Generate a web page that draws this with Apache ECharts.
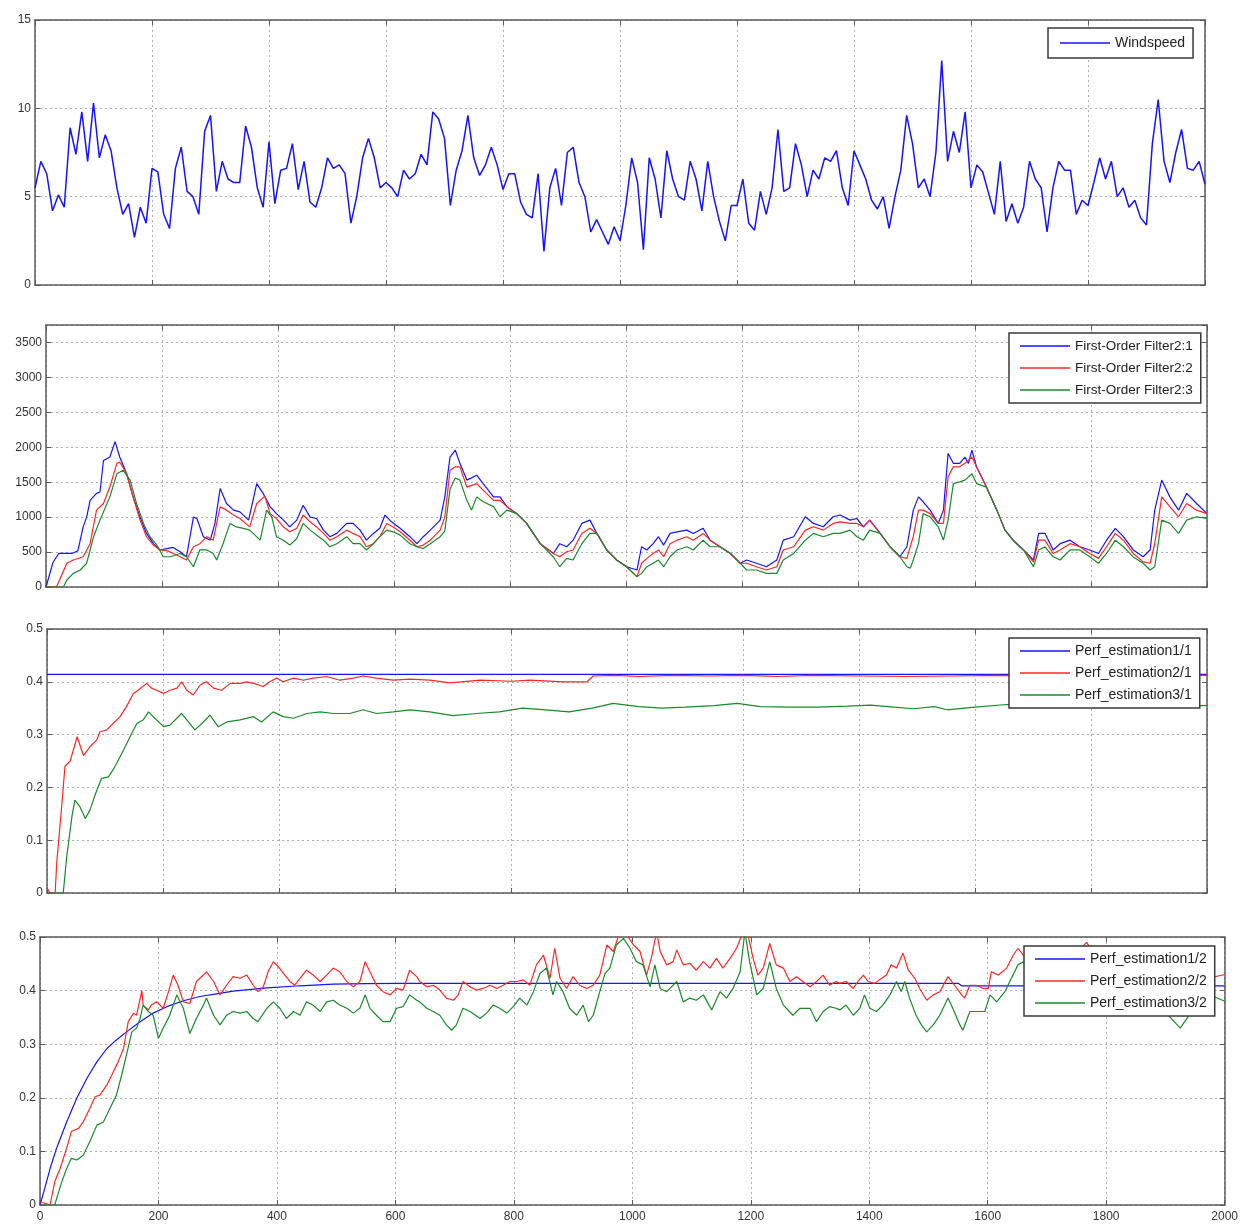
<!DOCTYPE html>
<html>
<head>
<meta charset="utf-8">
<title>Windspeed, filters and performance estimation</title>
<script src="https://cdn.jsdelivr.net/npm/echarts/dist/echarts.min.js"></script>
<style>
  html, body { margin: 0; padding: 0; background: #fff; }
  #chart { width: 1241px; height: 1225px; }
</style>
</head>
<body>
<div id="chart"></div>
<script>
// ---- Data ----------------------------------------------------------------

// Panel 1: wind speed sampled every 10 time units, t = 0 .. 2000
const windStep = 10;
const windSpeed = [
  5.5, 7.0, 6.3, 4.2, 5.1, 4.4, 8.9, 7.4, 9.8, 7.0,
  10.3, 7.2, 8.5, 7.6, 5.5, 4.0, 4.6, 2.7, 4.4, 3.5,
  6.6, 6.4, 4.0, 3.2, 6.6, 7.8, 5.3, 5.0, 4.0, 8.7,
  9.6, 5.3, 7.0, 6.0, 5.8, 5.8, 9.0, 7.8, 5.5, 4.4,
  8.1, 4.6, 6.5, 6.6, 8.0, 5.4, 7.0, 4.7, 4.4, 5.5,
  7.2, 6.6, 6.8, 6.3, 3.5, 5.0, 7.2, 8.3, 7.2, 5.5,
  5.8, 5.5, 5.0, 6.5, 6.0, 6.3, 7.4, 6.8, 9.8, 9.4,
  8.3, 4.5, 6.5, 7.6, 9.6, 7.2, 6.2, 6.8, 7.8, 6.8,
  5.4, 6.3, 6.3, 4.7, 4.0, 3.8, 6.3, 1.9, 5.5, 6.6,
  4.5, 7.5, 7.8, 5.8, 5.0, 3.0, 3.7, 3.0, 2.3, 3.3,
  2.5, 4.5, 7.2, 5.8, 2.0, 7.2, 6.0, 3.8, 7.6, 6.0,
  5.0, 4.8, 7.0, 6.0, 4.2, 7.0, 5.0, 3.6, 2.5, 4.5,
  4.5, 6.0, 3.5, 3.1, 5.3, 4.0, 5.5, 8.8, 5.3, 5.5,
  8.0, 6.8, 5.0, 6.5, 6.0, 7.2, 7.0, 7.6, 5.5, 4.5,
  7.6, 6.8, 6.0, 4.8, 4.3, 5.0, 3.2, 5.0, 6.5, 9.6,
  8.0, 5.5, 6.0, 5.0, 7.5, 12.7, 7.0, 8.7, 7.5, 9.8,
  5.5, 6.8, 6.4, 5.2, 4.0, 7.0, 3.6, 4.6, 3.5, 4.4,
  7.0, 6.0, 5.5, 3.0, 5.5, 7.0, 6.5, 6.5, 4.0, 4.8,
  4.5, 5.8, 7.2, 6.0, 7.0, 5.0, 5.5, 4.4, 4.8, 3.8,
  3.4, 8.0, 10.5, 7.0, 5.8, 7.5, 8.8, 6.6, 6.5, 7.0,
  5.7
];

// Panel 2: first-order filter outputs, [time, value]
const filter21 = [
  [0,0],[12,350],[22,480],[45,480],[55,520],[64,860],[70,1000],[76,1240],[87,1340],[93,1360],
  [99,1810],[110,1860],[119,2080],[127,1860],[139,1620],[150,1290],[162,1000],[173,770],[185,620],[196,530],
  [208,550],[219,567],[231,505],[242,433],[254,1000],[260,980],[271,720],[283,670],[291,910],[300,1410],
  [311,1195],[323,1100],[334,1076],[349,957],[363,1480],[374,1340],[386,1150],[397,1050],[409,957],[420,860],
  [432,957],[443,1170],[455,1000],[466,980],[478,814],[489,720],[501,767],[518,910],[529,910],[541,814],
  [552,670],[564,767],[575,840],[584,1030],[595,933],[610,840],[627,720],[639,620],[650,720],[662,814],
  [679,957],[687,1290],[696,1860],[705,1960],[713,1770],[725,1530],[742,1600],[753,1480],[771,1290],[782,1290],
  [794,1150],[811,1050],[828,910],[851,624],[874,480],[885,620],[897,576],[908,670],[923,910],[937,957],
  [949,767],[966,530],[983,386],[1000,290],[1018,243],[1026,576],[1035,530],[1046,620],[1055,720],[1064,600],
  [1075,767],[1087,790],[1104,814],[1115,767],[1132,840],[1144,670],[1161,576],[1179,480],[1196,340],[1207,386],
  [1224,340],[1241,290],[1259,386],[1270,670],[1288,720],[1308,1005],[1322,910],[1339,862],[1356,1005],[1368,1030],
  [1385,957],[1397,980],[1408,862],[1419,957],[1437,767],[1454,576],[1471,433],[1483,576],[1494,1100],[1503,1290],
  [1511,1220],[1523,1100],[1537,910],[1546,1100],[1554,1910],[1563,1770],[1574,1770],[1583,1860],[1589,1770],[1595,1960],
  [1603,1720],[1620,1430],[1638,1100],[1652,814],[1666,670],[1684,530],[1701,386],[1710,767],[1721,767],[1735,530],
  [1747,620],[1764,670],[1781,576],[1798,530],[1813,480],[1827,670],[1842,840],[1856,720],[1873,530],[1890,433],
  [1902,530],[1910,1100],[1922,1530],[1936,1290],[1951,1100],[1965,1340],[1982,1195],[2000,1050]
];
const filter22 = [
  [0,0],[18,0],[36,340],[47,386],[64,433],[76,620],[87,1100],[99,1195],[110,1430],[122,1770],
  [127,1790],[139,1620],[150,1290],[162,957],[173,720],[185,600],[196,530],[208,520],[225,457],[242,386],
  [254,576],[265,620],[277,720],[288,670],[300,1150],[311,1100],[323,1030],[334,980],[351,860],[363,1195],
  [377,1300],[386,1050],[397,980],[409,860],[420,790],[432,840],[443,1030],[455,933],[466,860],[478,767],
  [489,670],[501,720],[518,814],[529,767],[541,720],[552,576],[564,620],[575,720],[587,910],[598,860],
  [610,790],[627,670],[639,576],[650,600],[662,670],[679,814],[687,1000],[696,1670],[705,1720],[713,1720],
  [725,1430],[742,1480],[753,1386],[771,1240],[782,1240],[794,1150],[811,1050],[828,910],[851,624],[874,480],
  [885,433],[897,505],[908,530],[923,767],[937,840],[949,767],[966,530],[983,386],[1000,290],[1018,148],
  [1026,340],[1035,410],[1046,480],[1055,530],[1064,433],[1075,620],[1087,670],[1104,720],[1115,670],[1132,767],
  [1144,670],[1161,576],[1179,480],[1196,340],[1207,340],[1224,290],[1241,243],[1259,290],[1270,530],[1288,576],
  [1308,814],[1322,862],[1339,814],[1356,910],[1368,933],[1385,910],[1397,910],[1408,862],[1419,957],[1437,767],
  [1454,576],[1471,433],[1483,410],[1494,720],[1503,1100],[1511,1100],[1523,1050],[1537,910],[1546,910],[1554,1576],
  [1563,1720],[1574,1720],[1583,1770],[1595,1860],[1603,1720],[1620,1430],[1638,1100],[1652,814],[1666,670],[1684,530],
  [1701,360],[1710,670],[1721,670],[1735,480],[1747,530],[1764,620],[1781,576],[1798,480],[1813,410],[1827,576],
  [1842,767],[1856,670],[1873,480],[1890,360],[1902,340],[1910,620],[1922,1290],[1936,1150],[1951,1005],[1965,1195],
  [1982,1100],[2000,1050]
];
const filter23 = [
  [0,0],[30,0],[36,100],[47,195],[59,243],[70,340],[82,720],[93,957],[110,1290],[122,1620],
  [133,1670],[145,1530],[156,1195],[168,910],[179,720],[191,600],[202,433],[214,433],[231,480],[242,433],
  [254,290],[265,530],[277,530],[288,480],[294,386],[305,620],[317,910],[328,860],[340,840],[351,814],
  [369,670],[380,1100],[389,1000],[397,720],[409,670],[420,600],[432,695],[443,910],[455,814],[466,743],
  [478,670],[489,576],[501,620],[518,720],[529,620],[541,620],[552,530],[564,620],[575,720],[587,814],
  [598,790],[610,743],[627,620],[639,576],[650,550],[662,620],[679,720],[687,800],[696,1400],[705,1560],
  [713,1530],[725,1240],[733,1100],[742,1290],[753,1220],[771,1150],[782,1005],[794,1100],[811,1050],[828,910],
  [851,624],[874,430],[885,290],[897,410],[908,386],[923,620],[937,767],[949,767],[966,530],[983,386],
  [1000,290],[1018,148],[1026,195],[1035,290],[1046,340],[1055,386],[1064,290],[1075,433],[1087,530],[1104,576],
  [1115,530],[1132,670],[1144,576],[1161,576],[1179,480],[1196,340],[1207,243],[1224,243],[1241,195],[1259,195],
  [1270,386],[1288,480],[1308,670],[1322,767],[1339,720],[1356,767],[1368,767],[1385,814],[1397,720],[1408,670],
  [1419,814],[1437,767],[1454,576],[1471,433],[1483,290],[1489,270],[1494,386],[1503,620],[1511,1050],[1523,1005],
  [1537,862],[1546,670],[1554,957],[1563,1480],[1574,1505],[1583,1530],[1595,1620],[1603,1480],[1620,1430],[1638,1100],
  [1652,814],[1666,670],[1684,530],[1701,290],[1710,530],[1721,576],[1735,433],[1747,386],[1764,530],[1781,530],
  [1798,433],[1813,340],[1827,480],[1842,670],[1856,576],[1873,430],[1890,340],[1902,243],[1910,290],[1922,957],
  [1936,910],[1951,767],[1965,957],[1982,1005],[2000,980]
];

// Panel 3: performance estimates, first output
const perf11 = [[0,0.414],[2000,0.414]];
const perf21 = [
  [0,0.01],[5,0],[14,0],[17,0.06],[25,0.16],[31,0.24],[40,0.25],[52,0.296],[63,0.26],[74,0.277],
  [86,0.29],[91,0.305],[103,0.309],[114,0.321],[126,0.334],[137,0.353],[149,0.378],[157,0.384],[172,0.397],[180,0.388],
  [189,0.384],[201,0.378],[212,0.384],[224,0.388],[232,0.4],[241,0.384],[252,0.375],[264,0.394],[275,0.4],[287,0.388],
  [301,0.384],[316,0.397],[333,0.397],[344,0.4],[356,0.397],[373,0.391],[384,0.4],[396,0.407],[407,0.4],[425,0.407],
  [442,0.403],[459,0.407],[482,0.41],[505,0.403],[528,0.407],[545,0.411],[568,0.407],[597,0.403],[626,0.405],[660,0.403],
  [695,0.398],[747,0.403],[800,0.401],[833,0.403],[890,0.4],[931,0.4],[942,0.411],[980,0.412],[1020,0.41],[1080,0.412],
  [1140,0.411],[1200,0.412],[1260,0.41],[1320,0.412],[1400,0.411],[1480,0.41],[1560,0.411],[1640,0.412],[1700,0.411],[1800,0.412],
  [1900,0.412],[2000,0.412]
];
const perf31 = [
  [0,0],[28,0],[34,0.069],[43,0.145],[48,0.176],[57,0.163],[66,0.141],[74,0.157],[86,0.195],[94,0.217],
  [106,0.22],[117,0.239],[132,0.271],[146,0.302],[155,0.321],[166,0.328],[175,0.343],[186,0.331],[201,0.315],[212,0.318],
  [232,0.34],[241,0.328],[255,0.309],[267,0.321],[281,0.337],[295,0.315],[310,0.324],[333,0.328],[356,0.334],[370,0.324],
  [390,0.343],[407,0.334],[425,0.331],[448,0.34],[471,0.343],[494,0.34],[522,0.34],[545,0.347],[568,0.34],[597,0.343],
  [626,0.347],[660,0.343],[700,0.336],[740,0.34],[780,0.343],[820,0.35],[860,0.347],[900,0.343],[940,0.35],[976,0.359],
  [1020,0.353],[1060,0.35],[1100,0.352],[1150,0.355],[1190,0.359],[1230,0.353],[1280,0.352],[1330,0.352],[1380,0.354],[1420,0.356],
  [1460,0.352],[1494,0.349],[1530,0.353],[1552,0.347],[1600,0.352],[1655,0.357],[1700,0.356],[1800,0.355],[1900,0.356],[2000,0.355]
];

// Panel 4: performance estimates, second output
const perf12 = [
  [0,0],[8,0.031],[17,0.068],[28,0.106],[45,0.155],[62,0.199],[79,0.236],[96,0.267],[113,0.292],[129,0.308],
  [146,0.323],[169,0.342],[191,0.358],[214,0.37],[242,0.381],[270,0.389],[298,0.394],[326,0.399],[383,0.405],[439,0.409],
  [495,0.412],[551,0.413],[608,0.4135],[1550,0.4135],[1556,0.409],[2000,0.409]
];
const perf22 = [
  [0,0.006],[17,0],[25,0.044],[34,0.068],[45,0.106],[53,0.137],[65,0.143],[73,0.155],[84,0.18],[93,0.202],
  [101,0.205],[113,0.224],[124,0.249],[132,0.267],[141,0.292],[149,0.342],[158,0.358],[163,0.354],[172,0.4],[174,0.373],
  [183,0.364],[188,0.373],[197,0.379],[208,0.367],[217,0.398],[225,0.429],[233,0.41],[242,0.379],[253,0.376],[264,0.417],
  [276,0.429],[281,0.435],[293,0.417],[304,0.392],[315,0.41],[326,0.426],[338,0.423],[349,0.429],[360,0.41],[368,0.398],
  [377,0.407],[385,0.435],[394,0.454],[402,0.445],[411,0.432],[422,0.417],[430,0.41],[439,0.423],[450,0.438],[461,0.429],
  [473,0.417],[484,0.429],[495,0.442],[506,0.435],[518,0.417],[529,0.407],[540,0.417],[549,0.454],[557,0.435],[568,0.41],
  [579,0.398],[591,0.392],[602,0.404],[613,0.401],[624,0.438],[636,0.426],[641,0.417],[653,0.407],[664,0.41],[675,0.401],
  [686,0.386],[698,0.382],[706,0.392],[714,0.417],[726,0.407],[737,0.401],[748,0.404],[760,0.41],[771,0.404],[782,0.41],
  [793,0.417],[805,0.417],[816,0.42],[827,0.41],[838,0.448],[850,0.466],[861,0.423],[869,0.479],[878,0.423],[889,0.404],
  [900,0.426],[911,0.41],[923,0.404],[934,0.41],[945,0.429],[957,0.485],[968,0.473],[979,0.51],[990,0.505],[1002,0.485],
  [1013,0.473],[1024,0.429],[1032,0.46],[1041,0.51],[1047,0.473],[1058,0.448],[1069,0.454],[1075,0.476],[1086,0.448],[1097,0.451],
  [1108,0.438],[1120,0.454],[1131,0.442],[1142,0.46],[1153,0.442],[1165,0.46],[1176,0.479],[1187,0.51],[1195,0.505],[1204,0.46],
  [1212,0.429],[1221,0.442],[1232,0.488],[1243,0.448],[1255,0.442],[1266,0.417],[1277,0.426],[1288,0.417],[1300,0.407],[1311,0.417],
  [1322,0.429],[1333,0.41],[1344,0.417],[1350,0.4135],[1361,0.417],[1373,0.404],[1381,0.417],[1390,0.429],[1398,0.417],[1409,0.4135],
  [1421,0.423],[1429,0.429],[1437,0.448],[1446,0.442],[1457,0.47],[1466,0.438],[1477,0.423],[1485,0.404],[1497,0.382],[1508,0.392],
  [1519,0.398],[1533,0.426],[1544,0.41],[1556,0.392],[1561,0.386],[1570,0.41],[1581,0.41],[1592,0.404],[1601,0.404],[1606,0.435],
  [1618,0.429],[1632,0.442],[1643,0.466],[1651,0.479],[1660,0.466],[1700,0.45],[1740,0.46],[1767,0.49],[1790,0.45],[1830,0.43],
  [1870,0.44],[1910,0.41],[1930,0.4],[1960,0.42],[2000,0.43]
];
const perf32 = [
  [0,0],[25,0],[28,0.012],[37,0.044],[45,0.068],[53,0.087],[62,0.084],[73,0.093],[84,0.118],[96,0.149],
  [107,0.155],[118,0.18],[129,0.205],[138,0.243],[146,0.28],[155,0.323],[163,0.33],[169,0.348],[174,0.373],[183,0.361],
  [191,0.354],[200,0.311],[208,0.33],[219,0.354],[231,0.392],[242,0.367],[253,0.32],[264,0.348],[276,0.373],[281,0.386],
  [293,0.354],[304,0.336],[315,0.354],[326,0.361],[338,0.358],[349,0.361],[360,0.348],[368,0.342],[383,0.367],[394,0.379],
  [405,0.367],[416,0.348],[428,0.361],[439,0.354],[450,0.379],[461,0.373],[473,0.361],[484,0.379],[495,0.382],[506,0.373],
  [518,0.367],[529,0.358],[540,0.367],[549,0.392],[557,0.367],[568,0.354],[579,0.342],[591,0.342],[602,0.367],[613,0.37],
  [624,0.392],[636,0.382],[641,0.379],[653,0.367],[664,0.361],[675,0.354],[686,0.336],[695,0.326],[703,0.336],[714,0.367],
  [726,0.361],[743,0.348],[754,0.358],[765,0.373],[776,0.367],[788,0.358],[799,0.37],[810,0.386],[822,0.373],[833,0.398],
  [844,0.432],[855,0.442],[866,0.392],[872,0.417],[883,0.398],[894,0.367],[906,0.354],[917,0.373],[926,0.342],[934,0.354],
  [945,0.398],[954,0.432],[962,0.442],[973,0.485],[985,0.4975],[996,0.479],[1007,0.454],[1018,0.448],[1030,0.407],[1038,0.448],
  [1047,0.404],[1058,0.398],[1075,0.417],[1086,0.379],[1097,0.386],[1108,0.382],[1120,0.392],[1134,0.364],[1148,0.398],[1159,0.386],
  [1170,0.404],[1182,0.435],[1190,0.51],[1198,0.454],[1210,0.392],[1221,0.404],[1232,0.454],[1243,0.404],[1255,0.373],[1271,0.354],
  [1283,0.367],[1300,0.367],[1311,0.342],[1322,0.361],[1333,0.37],[1344,0.367],[1350,0.364],[1361,0.373],[1373,0.354],[1384,0.367],
  [1392,0.392],[1401,0.367],[1412,0.361],[1423,0.373],[1435,0.392],[1446,0.417],[1454,0.398],[1460,0.417],[1468,0.386],[1479,0.354],
  [1488,0.336],[1497,0.323],[1508,0.336],[1519,0.354],[1533,0.386],[1541,0.367],[1553,0.336],[1558,0.326],[1570,0.361],[1581,0.361],
  [1595,0.361],[1604,0.392],[1615,0.379],[1629,0.398],[1640,0.423],[1651,0.448],[1660,0.454],[1700,0.42],[1740,0.43],[1767,0.47],
  [1800,0.4],[1830,0.36],[1870,0.37],[1900,0.36],[1925,0.33],[1950,0.37],[1980,0.39],[2000,0.38]
];

// Legend names per panel
const panelNames = [
  ['Windspeed'],
  ['First-Order Filter2:1', 'First-Order Filter2:2', 'First-Order Filter2:3'],
  ['Perf_estimation1/1', 'Perf_estimation2/1', 'Perf_estimation3/1'],
  ['Perf_estimation1/2', 'Perf_estimation2/2', 'Perf_estimation3/2']
];

// Axis ranges per panel
const yRanges = [
  { min: 0, max: 15, interval: 5 },
  { min: 0, max: 3750, interval: 500 },
  { min: 0, max: 0.5, interval: 0.1 },
  { min: 0, max: 0.5, interval: 0.1 }
];
const timeRange = { min: 0, max: 2000, interval: 200 };

// ---- Layout & style -------------------------------------------------------
const grids = [
  { left: 35, top: 20, width: 1170, height: 265 },
  { left: 46, top: 325, width: 1161, height: 262 },
  { left: 47, top: 629, width: 1160, height: 264 },
  { left: 40, top: 937, width: 1185, height: 268 }
];
const legendBoxes = [
  { left: 1048, top: 28, fontSize: 14, padding: [8, 8, 8, 12] },
  { left: 1009, top: 333, fontSize: 13.5, padding: [6, 8, 6, 11] },
  { left: 1009, top: 638, fontSize: 14, padding: [6, 8, 6, 11] },
  { left: 1024, top: 946, fontSize: 14, padding: [6, 8, 6, 11] }
];
const FONT = '"Liberation Sans", Arial, sans-serif';
const AXIS_COLOR = '#5a5a5a';
const GRID_COLOR = '#b0b0b0';
const LABEL_COLOR = '#333';
const BLUE = '#1414ff', RED = '#ff2626', GREEN = '#1a8a2a';

// plain numbers on the ticks, no thousands separators
const tickText = v => String(Math.round(v * 1000) / 1000);

const axisLine = { show: true, onZero: false, lineStyle: { color: AXIS_COLOR, width: 1.5 } };
const axisTick = { show: true, inside: true, length: 5, lineStyle: { color: AXIS_COLOR, width: 1 } };
const splitLine = { show: true, lineStyle: { color: GRID_COLOR, width: 1, type: [2, 3] } };
const labelStyle = { color: LABEL_COLOR, fontSize: 12, fontFamily: FONT, formatter: tickText };

const xAxes = [], yAxes = [];
grids.forEach((g, i) => {
  xAxes.push(Object.assign({
    type: 'value', gridIndex: i, position: 'bottom',
    axisLine, axisTick, splitLine,
    axisLabel: Object.assign({ show: i === 3, margin: 6 }, labelStyle)
  }, timeRange));
  xAxes.push(Object.assign({
    type: 'value', gridIndex: i, position: 'top',
    axisLine, axisTick, splitLine: { show: false }, axisLabel: { show: false }
  }, timeRange));
  yAxes.push(Object.assign({
    type: 'value', gridIndex: i, position: 'left',
    axisLine, axisTick, splitLine,
    axisLabel: Object.assign({ margin: 4, showMaxLabel: i !== 1 }, labelStyle)
  }, yRanges[i]));
  yAxes.push(Object.assign({
    type: 'value', gridIndex: i, position: 'right',
    axisLine, axisTick, splitLine: { show: false }, axisLabel: { show: false }
  }, yRanges[i]));
});

function lineSeries(name, panel, data, color, width) {
  return {
    name, type: 'line', data,
    xAxisIndex: panel * 2, yAxisIndex: panel * 2,
    symbol: 'none', clip: true, smooth: false,
    lineStyle: { color, width: width || 1.2 },
    itemStyle: { color },
    emphasis: { disabled: true }
  };
}

const windData = windSpeed.map((v, i) => [i * windStep, v]);

const series = [
  lineSeries(panelNames[0][0], 0, windData, BLUE, 1.5),
  lineSeries(panelNames[1][0], 1, filter21, BLUE),
  lineSeries(panelNames[1][1], 1, filter22, RED),
  lineSeries(panelNames[1][2], 1, filter23, GREEN),
  lineSeries(panelNames[2][0], 2, perf11, BLUE),
  lineSeries(panelNames[2][1], 2, perf21, RED),
  lineSeries(panelNames[2][2], 2, perf31, GREEN),
  lineSeries(panelNames[3][0], 3, perf12, BLUE),
  lineSeries(panelNames[3][1], 3, perf22, RED),
  lineSeries(panelNames[3][2], 3, perf32, GREEN)
];

const legends = legendBoxes.map((b, i) => ({
  data: panelNames[i],
  left: b.left, top: b.top,
  orient: 'vertical',
  icon: 'rect', itemWidth: 50, itemHeight: 1.6, itemGap: 8,
  padding: b.padding,
  backgroundColor: '#fff',
  borderColor: '#3a3a3a', borderWidth: 1.5, borderRadius: 0,
  selectedMode: false,
  textStyle: { color: '#222', fontSize: b.fontSize, fontFamily: FONT }
}));

const chart = echarts.init(document.getElementById('chart'), null, { renderer: 'canvas' });
chart.setOption({
  animation: false,
  backgroundColor: '#fff',
  grid: grids.map(g => Object.assign({ containLabel: false }, g)),
  xAxis: xAxes,
  yAxis: yAxes,
  legend: legends,
  series
});
</script>
</body>
</html>
